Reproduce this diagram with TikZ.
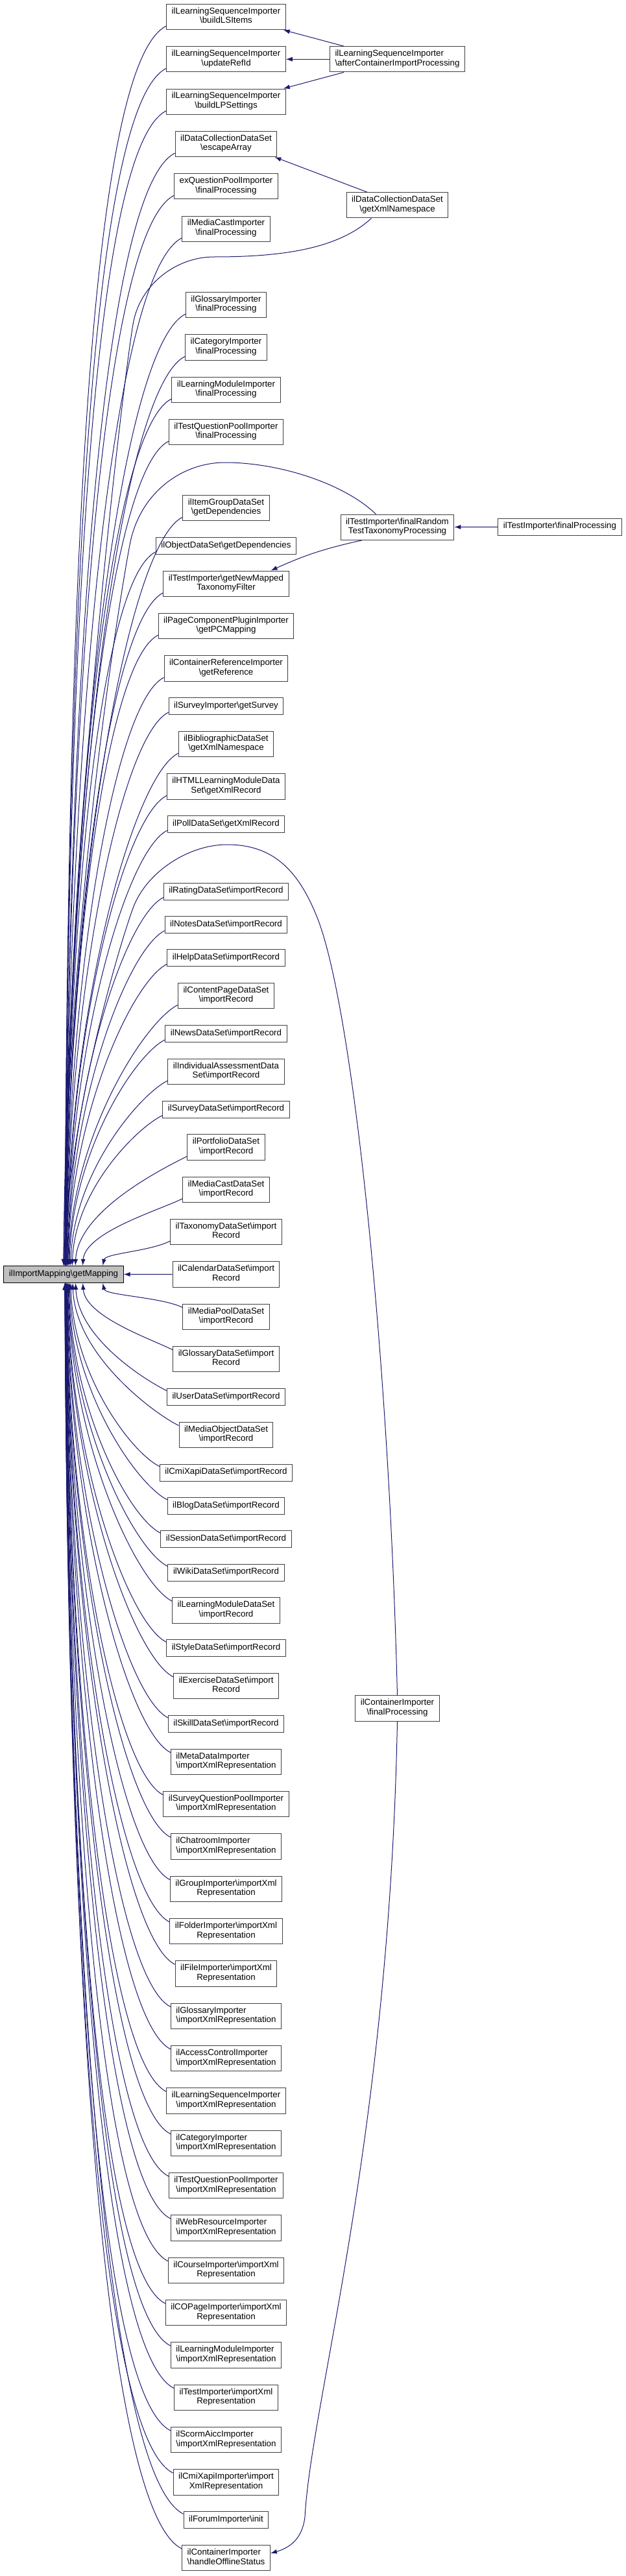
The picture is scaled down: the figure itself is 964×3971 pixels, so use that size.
\documentclass[tikz,border=0pt]{standalone}
\usepackage{fontspec}
\setmainfont{Liberation Sans}
\usetikzlibrary{arrows.meta,calc}
\definecolor{edgeblue}{HTML}{191970}
\definecolor{boxgray}{HTML}{404040}
\definecolor{calledgray}{HTML}{BFBFBF}
\newcommand{\bsl}{\textbackslash}

\begin{document}
\begin{tikzpicture}[
    x=0.75pt, y=-0.75pt,
    fn box/.style={draw=boxgray, fill=white, line width=0.75pt, align=center,
      inner xsep=6pt, inner ysep=4pt, minimum height=19.5pt,
      font=\fontsize{10}{11}\selectfont,
      execute at begin node=\strut, execute at end node=\strut},
    fn left/.style={fn box, align=left},
    called/.style={fn box, draw=black, fill=calledgray},
    call/.style={draw=edgeblue, line width=0.75pt, -{Latex[length=7.5pt,width=5.25pt]}},
    fan up/.style={call, to path={let
        \p1=($(\tikztostart.south west)!0.15!(\tikztostart.north west)$),
        \p2=(\tikztotarget.north west), \n1={\y1-\y2}, \n2={22.5+0.05*\n1},
        \n3={0.75*(93+min(60,2250/\n1))} in
        (\p1) .. controls +(-\n2,-0.5*\n2) and +(3pt,0.5*\n1) .. (\x2+\n3,\y2)}},
    fan down/.style={call, to path={let
        \p1=($(\tikztostart.north west)!0.15!(\tikztostart.south west)$),
        \p2=(\tikztotarget.south west), \n1={\y2-\y1}, \n2={22.5+0.05*\n1},
        \n3={0.75*(93+min(60,2250/\n1))} in
        (\p1) .. controls +(-\n2,0.5*\n2) and +(3pt,-0.5*\n1) .. (\x2+\n3,\y2)}}
]
\useasboundingbox (0,0) rectangle (964,3971);

% the called function
\node[called] (M) at (98,1964.5) {ilImportMapping\bsl getMapping};

% direct callers
\node[fn box] (C1) at (348.5,26) {ilLearningSequenceImporter\\\bsl buildLSItems};
\node[fn box] (C2) at (348.5,91.3) {ilLearningSequenceImporter\\\bsl updateRefId};
\node[fn box] (C3) at (348.5,156.7) {ilLearningSequenceImporter\\\bsl buildLPSettings};
\node[fn box] (C4) at (348.5,222) {ilDataCollectionDataSet\\\bsl escapeArray};
\node[fn box] (C5) at (348.5,287.3) {exQuestionPoolImporter\\\bsl finalProcessing};
\node[fn box] (C6) at (348.5,352.7) {ilMediaCastImporter\\\bsl finalProcessing};
\node[fn box] (C7) at (348.5,470) {ilGlossaryImporter\\\bsl finalProcessing};
\node[fn box] (C8) at (348.5,535.3) {ilCategoryImporter\\\bsl finalProcessing};
\node[fn box] (C9) at (348.5,600.7) {ilLearningModuleImporter\\\bsl finalProcessing};
\node[fn box] (C10) at (348.5,666) {ilTestQuestionPoolImporter\\\bsl finalProcessing};
\node[fn box] (C11) at (348.5,783) {ilItemGroupDataSet\\\bsl getDependencies};
\node[fn box] (C12) at (348.5,841.3) {ilObjectDataSet\bsl getDependencies};
\node[fn box] (C13) at (348.5,899.7) {ilTestImporter\bsl getNewMapped\\TaxonomyFilter};
\node[fn box] (C14) at (348.5,965) {ilPageComponentPluginImporter\\\bsl getPCMapping};
\node[fn box] (C15) at (348.5,1030.3) {ilContainerReferenceImporter\\\bsl getReference};
\node[fn box] (C16) at (348.5,1088.7) {ilSurveyImporter\bsl getSurvey};
\node[fn box] (C17) at (348.5,1147) {ilBibliographicDataSet\\\bsl getXmlNamespace};
\node[fn box] (C18) at (348.5,1212.3) {ilHTMLLearningModuleData\\Set\bsl getXmlRecord};
\node[fn box] (C19) at (348.5,1270.7) {ilPollDataSet\bsl getXmlRecord};
\node[fn box] (C20) at (348.5,1374) {ilRatingDataSet\bsl importRecord};
\node[fn box] (C21) at (348.5,1425.3) {ilNotesDataSet\bsl importRecord};
\node[fn box] (C22) at (348.5,1476.7) {ilHelpDataSet\bsl importRecord};
\node[fn box] (C23) at (348.5,1535) {ilContentPageDataSet\\\bsl importRecord};
\node[fn box] (C24) at (348.5,1593.3) {ilNewsDataSet\bsl importRecord};
\node[fn box] (C25) at (348.5,1651.7) {ilIndividualAssessmentData\\Set\bsl importRecord};
\node[fn box] (C26) at (348.5,1710) {ilSurveyDataSet\bsl importRecord};
\node[fn box] (C27) at (348.5,1768.3) {ilPortfolioDataSet\\\bsl importRecord};
\node[fn box] (C28) at (348.5,1833.7) {ilMediaCastDataSet\\\bsl importRecord};
\node[fn box] (C29) at (348.5,1899) {ilTaxonomyDataSet\bsl import\\Record};
\node[fn box] (C30) at (348.5,1964.3) {ilCalendarDataSet\bsl import\\Record};
\node[fn box] (C31) at (348.5,2029.7) {ilMediaPoolDataSet\\\bsl importRecord};
\node[fn box] (C32) at (348.5,2095) {ilGlossaryDataSet\bsl import\\Record};
\node[fn box] (C33) at (348.5,2153.3) {ilUserDataSet\bsl importRecord};
\node[fn box] (C34) at (348.5,2211.7) {ilMediaObjectDataSet\\\bsl importRecord};
\node[fn box] (C35) at (348.5,2270) {ilCmiXapiDataSet\bsl importRecord};
\node[fn box] (C36) at (348.5,2321.3) {ilBlogDataSet\bsl importRecord};
\node[fn box] (C37) at (348.5,2372.7) {ilSessionDataSet\bsl importRecord};
\node[fn box] (C38) at (348.5,2424) {ilWikiDataSet\bsl importRecord};
\node[fn box] (C39) at (348.5,2482.3) {ilLearningModuleDataSet\\\bsl importRecord};
\node[fn box] (C40) at (348.5,2540.7) {ilStyleDataSet\bsl importRecord};
\node[fn box] (C41) at (348.5,2599) {ilExerciseDataSet\bsl import\\Record};
\node[fn box] (C42) at (348.5,2657.3) {ilSkillDataSet\bsl importRecord};
\node[fn left] (C43) at (348.5,2715.7) {ilMetaDataImporter\\\bsl importXmlRepresentation};
\node[fn box] (C44) at (348.5,2781) {ilSurveyQuestionPoolImporter\\\bsl importXmlRepresentation};
\node[fn left] (C45) at (348.5,2846.3) {ilChatroomImporter\\\bsl importXmlRepresentation};
\node[fn box] (C46) at (348.5,2911.7) {ilGroupImporter\bsl importXml\\Representation};
\node[fn box] (C47) at (348.5,2977) {ilFolderImporter\bsl importXml\\Representation};
\node[fn box] (C48) at (348.5,3042.3) {ilFileImporter\bsl importXml\\Representation};
\node[fn left] (C49) at (348.5,3107.7) {ilGlossaryImporter\\\bsl importXmlRepresentation};
\node[fn left] (C50) at (348.5,3173) {ilAccessControlImporter\\\bsl importXmlRepresentation};
\node[fn box] (C51) at (348.5,3238.3) {ilLearningSequenceImporter\\\bsl importXmlRepresentation};
\node[fn left] (C52) at (348.5,3303.7) {ilCategoryImporter\\\bsl importXmlRepresentation};
\node[fn box] (C53) at (348.5,3369) {ilTestQuestionPoolImporter\\\bsl importXmlRepresentation};
\node[fn left] (C54) at (348.5,3434.3) {ilWebResourceImporter\\\bsl importXmlRepresentation};
\node[fn box] (C55) at (348.5,3499.7) {ilCourseImporter\bsl importXml\\Representation};
\node[fn box] (C56) at (348.5,3565) {ilCOPageImporter\bsl importXml\\Representation};
\node[fn left] (C57) at (348.5,3630.3) {ilLearningModuleImporter\\\bsl importXmlRepresentation};
\node[fn box] (C58) at (348.5,3695.7) {ilTestImporter\bsl importXml\\Representation};
\node[fn left] (C59) at (348.5,3761) {ilScormAiccImporter\\\bsl importXmlRepresentation};
\node[fn box] (C60) at (348.5,3826.3) {ilCmiXapiImporter\bsl import\\XmlRepresentation};
\node[fn box] (C61) at (348.5,3884.7) {ilForumImporter\bsl init};
\node[fn left] (C62) at (348.5,3943) {ilContainerImporter\\\bsl handleOfflineStatus};

% callers of callers
\node[fn left] (A) at (612.5,91.3) {ilLearningSequenceImporter\\\bsl afterContainerImportProcessing};
\node[fn box] (X) at (612.5,316.3) {ilDataCollectionDataSet\\\bsl getXmlNamespace};
\node[fn box] (R) at (612.5,812.7) {ilTestImporter\bsl finalRandom\\TestTaxonomyProcessing};
\node[fn box] (K) at (612.5,2633.5) {ilContainerImporter\\\bsl finalProcessing};
\node[fn box] (F) at (863,812) {ilTestImporter\bsl finalProcessing};

% edges into getMapping
\draw[fan up] (C1) to (M);
\draw[fan up] (C2) to (M);
\draw[fan up] (C3) to (M);
\draw[fan up] (C4) to (M);
\draw[fan up] (C5) to (M);
\draw[fan up] (C6) to (M);
\draw[fan up] (C7) to (M);
\draw[fan up] (C8) to (M);
\draw[fan up] (C9) to (M);
\draw[fan up] (C10) to (M);
\draw[fan up] (C11) to (M);
\draw[fan up] (C12) to (M);
\draw[fan up] (C13) to (M);
\draw[fan up] (C14) to (M);
\draw[fan up] (C15) to (M);
\draw[fan up] (C16) to (M);
\draw[fan up] (C17) to (M);
\draw[fan up] (C18) to (M);
\draw[fan up] (C19) to (M);
\draw[fan up] (C20) to (M);
\draw[fan up] (C21) to (M);
\draw[fan up] (C22) to (M);
\draw[fan up] (C23) to (M);
\draw[fan up] (C24) to (M);
\draw[fan up] (C25) to (M);
\draw[fan up] (C26) to (M);
\draw[fan up] (C27) to (M);
\draw[fan up] (C28) to (M);
\draw[fan up] (C29) to (M);
\draw[call] (C30) -- (M);
\draw[fan down] (C31) to (M);
\draw[fan down] (C32) to (M);
\draw[fan down] (C33) to (M);
\draw[fan down] (C34) to (M);
\draw[fan down] (C35) to (M);
\draw[fan down] (C36) to (M);
\draw[fan down] (C37) to (M);
\draw[fan down] (C38) to (M);
\draw[fan down] (C39) to (M);
\draw[fan down] (C40) to (M);
\draw[fan down] (C41) to (M);
\draw[fan down] (C42) to (M);
\draw[fan down] (C43) to (M);
\draw[fan down] (C44) to (M);
\draw[fan down] (C45) to (M);
\draw[fan down] (C46) to (M);
\draw[fan down] (C47) to (M);
\draw[fan down] (C48) to (M);
\draw[fan down] (C49) to (M);
\draw[fan down] (C50) to (M);
\draw[fan down] (C51) to (M);
\draw[fan down] (C52) to (M);
\draw[fan down] (C53) to (M);
\draw[fan down] (C54) to (M);
\draw[fan down] (C55) to (M);
\draw[fan down] (C56) to (M);
\draw[fan down] (C57) to (M);
\draw[fan down] (C58) to (M);
\draw[fan down] (C59) to (M);
\draw[fan down] (C60) to (M);
\draw[fan down] (C61) to (M);
\draw[fan down] (C62) to (M);

% second level
\draw[call] ([xshift=-62pt]A.north) -- ([xshift=-3pt]C1.south east);
\draw[call] (A) -- (C2);
\draw[call] ([xshift=-62pt]A.south) -- ([xshift=-3pt]C3.north east);
\draw[call] ([xshift=-35pt]X.north) -- ([xshift=-3pt]C4.south east);
\draw[call] ([xshift=-30pt]X.south) .. controls (520,385) and (430,396) .. (330,396)
  .. controls (270,396) and (215,440) .. (205,500)
  .. controls (190,590) and (103,1300) .. (M.north);
\draw[call] ([xshift=-24.75pt]R.north) .. controls (530,745) and (430,713) .. (347,713)
  .. controls (280,713) and (215,760) .. (200,840)
  .. controls (185,920) and (105,1400) .. (M.north);
\draw[call] ([xshift=-41pt]R.south) to[bend right=6] ([xshift=-21pt]C13.north east);
\draw[call] (F) -- (R);
\draw[call] (K.north) .. controls (600,2100) and (545,1560) .. (490,1417)
  .. controls (460,1340) and (420,1302) .. (350,1302)
  .. controls (290,1302) and (225,1345) .. (205,1400)
  .. controls (190,1440) and (108,1700) .. (M.north);
\draw[call] (K.south) .. controls (600,3300) and (480,3700) .. (470,3880)
  .. controls (466,3915) and (445,3928) .. ([yshift=5.25pt]C62.east);
\end{tikzpicture}
\end{document}
